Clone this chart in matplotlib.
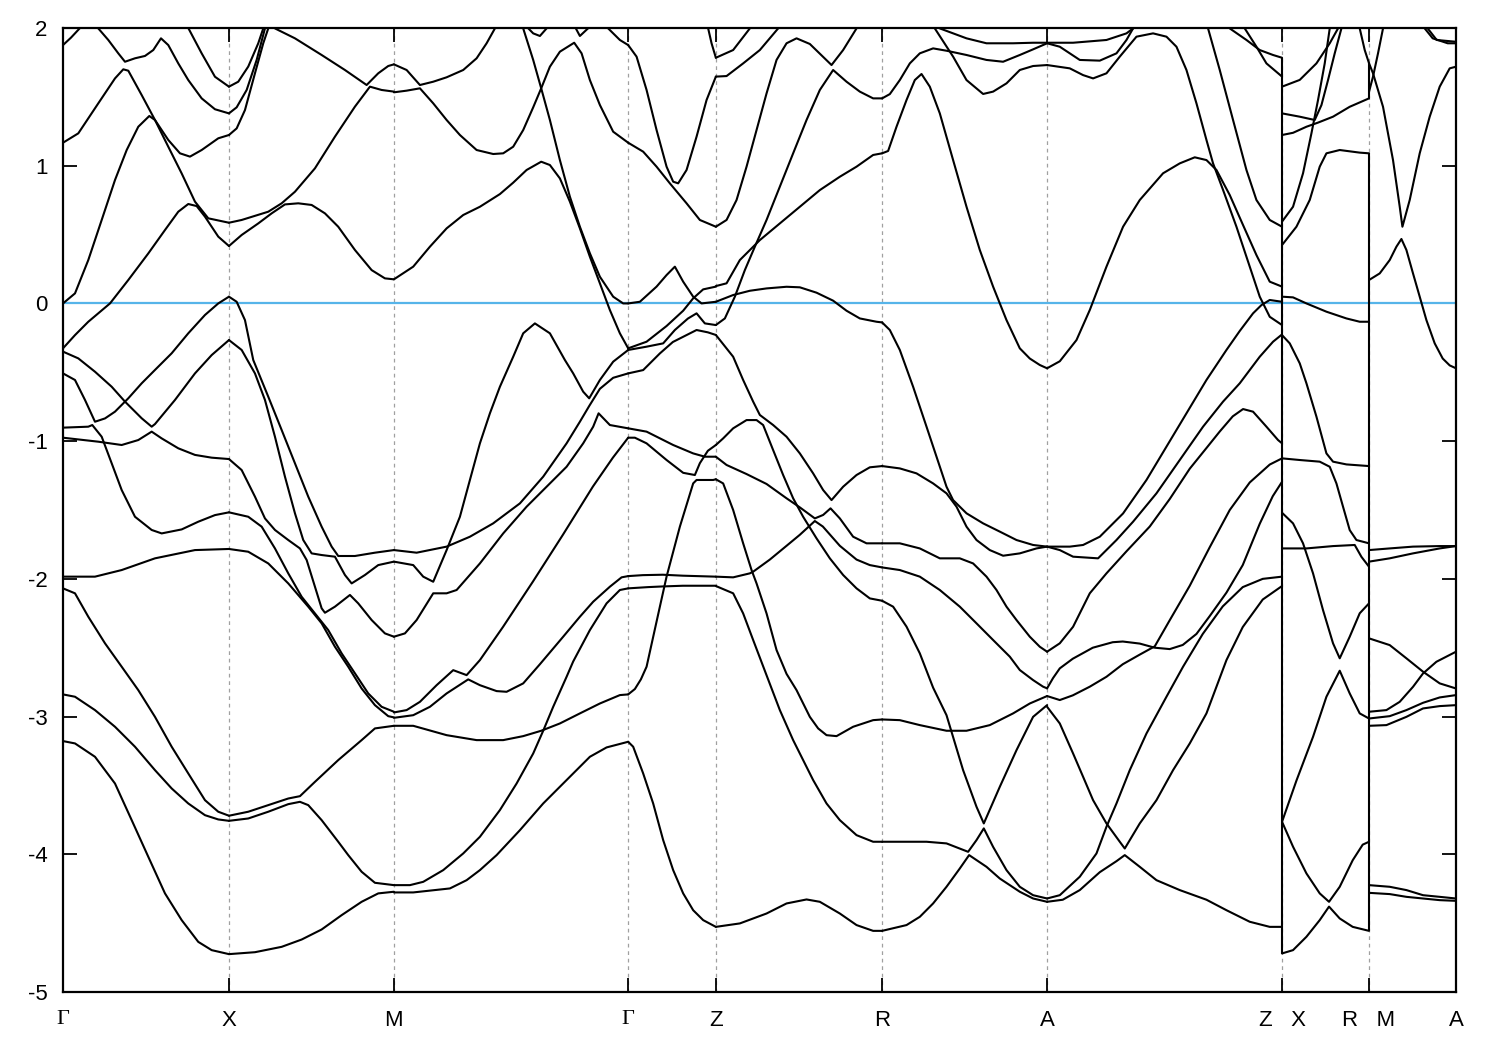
import matplotlib
matplotlib.use("Agg")
import matplotlib.pyplot as plt

# high symmetry points along the k-path
K_TICKS = [0.0, 1.66, 3.31, 5.653, 6.53, 8.193, 9.843, 12.193, 13.063, 13.933]
K_LABELS = ["Γ", "X", "M", "Γ", "Z", "R", "A", "Z   X", "R   M", "A"]
E_TICKS = [-5, -4, -3, -2, -1, 0, 1, 2]
K_ZX = 12.193
K_RM = 13.063
# energy ranges joined by a vertical step at the two path breaks
JUMP_SPANS = [
    (K_ZX, -4.725, 1.784),
    (K_RM, -4.556, 1.09),
    (K_RM, 1.489, 1.744),
]

# bands, one list of (k, E) per band, split by path segment
GAMMA_X = [
    [(0.0, 1.876), (0.08, 1.93), (0.17, 2.0), (0.19, 2.05)],
    [(0.33, 2.05), (0.353, 1.997), (0.453, 1.913), (0.553, 1.816), (0.62, 1.755), (0.72, 1.78), (0.82, 1.797),
     (0.903, 1.84), (0.98, 1.925), (1.053, 1.876), (1.153, 1.743), (1.253, 1.622), (1.387, 1.489), (1.52, 1.41),
     (1.66, 1.38)],
    [(1.23, 2.05), (1.253, 2.0), (1.387, 1.816), (1.52, 1.646), (1.66, 1.574)],
    [(0.0, 1.167), (0.153, 1.235), (0.353, 1.453), (0.52, 1.634), (0.603, 1.70), (0.653, 1.69), (0.787, 1.513),
     (0.92, 1.332), (1.053, 1.187), (1.17, 1.09), (1.27, 1.066), (1.387, 1.114), (1.553, 1.199), (1.66, 1.223)],
    [(0.0, 0.0), (0.12, 0.073), (0.253, 0.315), (0.387, 0.606), (0.52, 0.896), (0.637, 1.114), (0.753, 1.283),
     (0.863, 1.361), (0.92, 1.332), (1.053, 1.138), (1.187, 0.944), (1.32, 0.739), (1.453, 0.618), (1.66, 0.586)],
    [(0.0, -0.326), (0.12, -0.23), (0.253, -0.133), (0.47, 0.0), (0.653, 0.17), (0.853, 0.363), (1.02, 0.533),
     (1.153, 0.666), (1.253, 0.722), (1.337, 0.707), (1.42, 0.63), (1.553, 0.485), (1.66, 0.417)],
    [(0.0, -0.35), (0.153, -0.399), (0.32, -0.496), (0.487, -0.605), (0.62, -0.713), (0.787, -0.834),
     (0.887, -0.895), (0.92, -0.876), (1.12, -0.701), (1.32, -0.508), (1.487, -0.375), (1.66, -0.266)],
    [(0.0, -0.508), (0.12, -0.556), (0.22, -0.701), (0.32, -0.859), (0.42, -0.835), (0.52, -0.786),
     (0.653, -0.689), (0.787, -0.58), (0.92, -0.483), (1.087, -0.362), (1.253, -0.217), (1.42, -0.084),
     (1.553, 0.0), (1.66, 0.049)],
    [(0.0, -0.902), (0.253, -0.895), (0.293, -0.883), (0.387, -0.968), (0.487, -1.161), (0.587, -1.355),
     (0.72, -1.549), (0.887, -1.645), (0.987, -1.67), (1.187, -1.641), (1.353, -1.585), (1.52, -1.537),
     (1.66, -1.517)],
    [(0.0, -0.975), (0.353, -1.004), (0.587, -1.028), (0.753, -0.992), (0.887, -0.931), (0.987, -0.98),
     (1.153, -1.052), (1.32, -1.1), (1.487, -1.12), (1.66, -1.13)],
    [(0.0, -1.984), (0.32, -1.984), (0.587, -1.936), (0.92, -1.851), (1.32, -1.791), (1.66, -1.783)],
    [(0.0, -2.069), (0.12, -2.105), (0.253, -2.275), (0.42, -2.468), (0.587, -2.638), (0.753, -2.808),
     (0.92, -3.002), (1.087, -3.219), (1.253, -3.413), (1.42, -3.607), (1.553, -3.691), (1.66, -3.72)],
    [(0.0, -2.839), (0.12, -2.856), (0.32, -2.953), (0.52, -3.074), (0.72, -3.219), (0.92, -3.389),
     (1.087, -3.522), (1.253, -3.631), (1.42, -3.716), (1.553, -3.747), (1.66, -3.757)],
    [(0.0, -3.178), (0.12, -3.195), (0.32, -3.292), (0.52, -3.486), (0.687, -3.752), (0.853, -4.018),
     (1.02, -4.284), (1.187, -4.478), (1.353, -4.636), (1.487, -4.696), (1.66, -4.725)],
]

X_M = [
    [(1.66, 1.574), (1.753, 1.61), (1.853, 1.72), (1.953, 1.889), (2.003, 1.997), (2.02, 2.05)],
    [(1.66, 1.38), (1.737, 1.424), (1.837, 1.55), (1.937, 1.768), (2.02, 1.997), (2.04, 2.05)],
    [(1.66, 1.223), (1.737, 1.271), (1.82, 1.404), (1.92, 1.671), (2.003, 1.889), (2.053, 1.997), (2.07, 2.05)],
    [(2.1, 2.05), (2.12, 1.997), (2.32, 1.925), (2.587, 1.804), (2.82, 1.695), (3.037, 1.586), (3.153, 1.671),
     (3.253, 1.724), (3.31, 1.736)],
    [(1.66, 0.586), (1.787, 0.606), (2.053, 0.666), (2.187, 0.727), (2.32, 0.811), (2.52, 0.981), (2.72, 1.211),
     (2.92, 1.429), (3.07, 1.574), (3.187, 1.55), (3.31, 1.538)],
    [(1.66, 0.417), (1.787, 0.497), (1.953, 0.581), (2.087, 0.654), (2.22, 0.719), (2.353, 0.727), (2.487, 0.715),
     (2.62, 0.654), (2.753, 0.557), (2.92, 0.388), (3.087, 0.242), (3.22, 0.182), (3.31, 0.175)],
    [(1.66, 0.049), (1.737, 0.012), (1.82, -0.121), (1.903, -0.411), (2.053, -0.677), (2.187, -0.919),
     (2.32, -1.161), (2.453, -1.403), (2.587, -1.621), (2.687, -1.766), (2.753, -1.834), (2.92, -1.834),
     (3.12, -1.81), (3.31, -1.791)],
    [(1.66, -0.266), (1.787, -0.338), (1.92, -0.508), (2.02, -0.701), (2.12, -0.968), (2.22, -1.258),
     (2.32, -1.524), (2.403, -1.718), (2.487, -1.815), (2.587, -1.827), (2.72, -1.839), (2.82, -1.972),
     (2.887, -2.033), (3.02, -1.972), (3.153, -1.9), (3.31, -1.875)],
    [(1.66, -1.13), (1.787, -1.21), (1.92, -1.403), (2.02, -1.561), (2.12, -1.645), (2.253, -1.718),
     (2.37, -1.779), (2.437, -1.863), (2.52, -2.057), (2.587, -2.214), (2.62, -2.246), (2.72, -2.202),
     (2.87, -2.117), (2.953, -2.178), (3.087, -2.299), (3.22, -2.396), (3.31, -2.42)],
    [(1.66, -1.517), (1.853, -1.549), (1.987, -1.621), (2.12, -1.779), (2.253, -1.96), (2.387, -2.13),
     (2.52, -2.251), (2.653, -2.372), (2.787, -2.541), (2.92, -2.686), (3.053, -2.832), (3.187, -2.929),
     (3.31, -2.965)],
    [(1.66, -1.783), (1.853, -1.803), (2.053, -1.888), (2.253, -2.033), (2.453, -2.202), (2.587, -2.323),
     (2.72, -2.493), (2.853, -2.638), (2.987, -2.796), (3.12, -2.917), (3.253, -2.997), (3.31, -3.006)],
    [(1.66, -3.72), (1.853, -3.691), (2.053, -3.643), (2.253, -3.595), (2.37, -3.578), (2.52, -3.474),
     (2.753, -3.316), (2.987, -3.171), (3.12, -3.086), (3.31, -3.067)],
    [(1.66, -3.757), (1.853, -3.74), (2.053, -3.691), (2.253, -3.636), (2.37, -3.619), (2.453, -3.643),
     (2.587, -3.752), (2.753, -3.909), (2.853, -4.006), (2.987, -4.127), (3.12, -4.207), (3.31, -4.224)],
    [(1.66, -4.725), (1.92, -4.711), (2.187, -4.672), (2.387, -4.619), (2.587, -4.546), (2.787, -4.442),
     (2.987, -4.345), (3.153, -4.284), (3.31, -4.272)],
]

M_GAMMA = [
    [(3.31, 1.736), (3.437, 1.695), (3.57, 1.586), (3.703, 1.61), (3.837, 1.642), (4.003, 1.695), (4.137, 1.78),
     (4.237, 1.889), (4.32, 1.997), (4.34, 2.05)],
    [(3.31, 1.533), (3.437, 1.545), (3.57, 1.562), (3.703, 1.453), (3.837, 1.332), (3.97, 1.223), (4.137, 1.114),
     (4.303, 1.085), (4.403, 1.09), (4.503, 1.138), (4.603, 1.259), (4.703, 1.424), (4.783, 1.562), (4.87, 1.719),
     (4.97, 1.828), (5.113, 1.893), (5.187, 1.816), (5.27, 1.622), (5.37, 1.441), (5.503, 1.247), (5.653, 1.167)],
    [(4.62, 2.05), (4.637, 2.01), (4.703, 1.961), (4.77, 1.942), (4.837, 1.997), (4.85, 2.05)],
    [(5.1, 2.05), (5.12, 2.01), (5.17, 1.942), (5.27, 2.01), (5.29, 2.05)],
    [(4.58, 2.05), (4.603, 1.997), (4.703, 1.768), (4.783, 1.562), (4.87, 1.332), (4.97, 1.041), (5.07, 0.775),
     (5.17, 0.557), (5.27, 0.364), (5.37, 0.194), (5.503, 0.049), (5.603, 0.0), (5.653, 0.0)],
    [(3.31, 0.175), (3.503, 0.267), (3.67, 0.412), (3.837, 0.545), (4.003, 0.642), (4.17, 0.702), (4.37, 0.794),
     (4.503, 0.877), (4.637, 0.969), (4.783, 1.029), (4.87, 1.005), (4.97, 0.908), (5.07, 0.739), (5.17, 0.545),
     (5.27, 0.339), (5.37, 0.146), (5.47, -0.048), (5.57, -0.217), (5.653, -0.326)],
    [(5.43, 2.05), (5.453, 1.997), (5.57, 1.913), (5.653, 1.876)],
    [(3.31, -1.875), (3.503, -1.9), (3.603, -1.984), (3.703, -2.021), (3.837, -1.791), (3.97, -1.549),
     (4.07, -1.282), (4.17, -1.016), (4.27, -0.798), (4.37, -0.605), (4.503, -0.387), (4.603, -0.217),
     (4.72, -0.145), (4.87, -0.217), (5.02, -0.411), (5.103, -0.508), (5.203, -0.641), (5.263, -0.689),
     (5.37, -0.556), (5.503, -0.423), (5.653, -0.338)],
    [(3.31, -1.791), (3.537, -1.81), (3.837, -1.766), (4.07, -1.694), (4.303, -1.597), (4.57, -1.452),
     (4.803, -1.258), (5.037, -1.016), (5.17, -0.859), (5.263, -0.745), (5.37, -0.62), (5.503, -0.54),
     (5.653, -0.508)],
    [(3.31, -2.42), (3.42, -2.396), (3.537, -2.299), (3.703, -2.105), (3.837, -2.105), (3.937, -2.081),
     (4.17, -1.888), (4.403, -1.67), (4.637, -1.476), (4.837, -1.331), (5.037, -1.186), (5.203, -1.016),
     (5.303, -0.895), (5.357, -0.798), (5.47, -0.883), (5.653, -0.907)],
    [(3.31, -2.97), (3.437, -2.953), (3.57, -2.893), (3.737, -2.772), (3.903, -2.663), (4.037, -2.699),
     (4.17, -2.59), (4.4, -2.35), (4.7, -2.02), (5.0, -1.68), (5.3, -1.33), (5.5, -1.12), (5.653, -0.975)],
    [(3.31, -3.009), (3.503, -2.99), (3.67, -2.929), (3.837, -2.832), (4.053, -2.73), (4.17, -2.772),
     (4.337, -2.815), (4.437, -2.82), (4.603, -2.759), (4.77, -2.62), (5.003, -2.42), (5.17, -2.275),
     (5.303, -2.166), (5.47, -2.057), (5.587, -1.989), (5.653, -1.98)],
    [(3.31, -3.067), (3.503, -3.067), (3.837, -3.135), (4.137, -3.171), (4.403, -3.171), (4.603, -3.142),
     (4.783, -3.103), (4.97, -3.05), (5.17, -2.977), (5.37, -2.905), (5.57, -2.844), (5.653, -2.839)],
    [(3.31, -4.224), (3.47, -4.224), (3.603, -4.2), (3.803, -4.115), (4.003, -3.994), (4.17, -3.873),
     (4.37, -3.679), (4.537, -3.486), (4.703, -3.268), (4.803, -3.103), (4.903, -2.929), (5.037, -2.711),
     (5.103, -2.6), (5.27, -2.372), (5.437, -2.178), (5.57, -2.081), (5.653, -2.069)],
    [(3.31, -4.277), (3.503, -4.277), (3.87, -4.248), (4.037, -4.188), (4.17, -4.115), (4.337, -4.006),
     (4.57, -3.825), (4.803, -3.631), (5.037, -3.461), (5.27, -3.292), (5.437, -3.224), (5.653, -3.183)],
]

GAMMA_Z = [
    [(5.653, 1.876), (5.737, 1.792), (5.837, 1.55), (5.937, 1.259), (6.037, 0.993), (6.103, 0.884), (6.153, 0.872),
     (6.237, 0.969), (6.337, 1.211), (6.437, 1.477), (6.53, 1.647)],
    [(5.653, 1.167), (5.803, 1.102), (5.937, 0.993), (6.07, 0.872), (6.237, 0.727), (6.37, 0.606), (6.53, 0.557)],
    [(6.44, 2.05), (6.453, 1.997), (6.487, 1.889), (6.53, 1.784)],
    [(5.653, 0.0), (5.77, 0.012), (5.937, 0.122), (6.037, 0.206), (6.12, 0.267), (6.203, 0.158), (6.303, 0.049),
     (6.387, 0.0), (6.53, 0.012)],
    [(5.653, -0.326), (5.837, -0.278), (6.037, -0.164), (6.203, -0.053), (6.303, 0.037), (6.403, 0.102),
     (6.53, 0.122)],
    [(5.653, -0.338), (5.837, -0.314), (6.003, -0.29), (6.12, -0.193), (6.25, -0.11), (6.337, -0.072),
     (6.42, -0.145), (6.53, -0.157)],
    [(5.653, -0.508), (5.803, -0.484), (5.97, -0.363), (6.1, -0.28), (6.337, -0.193), (6.45, -0.21), (6.53, -0.229)],
    [(5.653, -0.907), (5.837, -0.931), (6.103, -1.028), (6.303, -1.089), (6.42, -1.113), (6.53, -1.113)],
    [(5.653, -0.975), (5.72, -0.975), (5.837, -1.016), (6.037, -1.137), (6.203, -1.23), (6.32, -1.246),
     (6.37, -1.16), (6.45, -1.07), (6.53, -1.028)],
    [(5.653, -1.98), (5.8, -1.973), (6.0, -1.97), (6.2, -1.977), (6.53, -1.984)],
    [(5.653, -2.069), (5.85, -2.06), (6.0, -2.055), (6.2, -2.05), (6.53, -2.05)],
    [(5.653, -2.839), (5.72, -2.8), (5.78, -2.73), (5.837, -2.638), (5.97, -2.202), (6.037, -1.984), (6.17, -1.621),
     (6.303, -1.307), (6.337, -1.282), (6.503, -1.282), (6.53, -1.277)],
    [(5.653, -3.183), (5.703, -3.219), (5.803, -3.413), (5.903, -3.631), (6.003, -3.897), (6.103, -4.115),
     (6.203, -4.284), (6.303, -4.406), (6.403, -4.478), (6.53, -4.527)],
]

Z_R = [
    [(6.53, 1.647), (6.637, 1.651), (6.803, 1.743), (6.97, 1.84), (7.153, 1.997), (7.18, 2.05)],
    [(6.53, 1.784), (6.703, 1.84), (6.87, 1.997), (6.89, 2.05)],
    [(6.53, 0.557), (6.637, 0.606), (6.737, 0.751), (6.837, 0.993), (6.937, 1.259), (7.037, 1.525), (7.137, 1.768),
     (7.237, 1.889), (7.337, 1.925), (7.47, 1.884), (7.687, 1.731), (7.803, 1.84), (7.937, 1.997), (7.96, 2.05)],
    [(6.53, -0.157), (6.62, -0.109), (6.72, 0.049), (6.82, 0.242), (6.92, 0.412), (7.037, 0.606), (7.17, 0.848),
     (7.303, 1.09), (7.437, 1.332), (7.57, 1.55), (7.703, 1.695), (7.837, 1.61), (7.97, 1.538), (8.103, 1.489),
     (8.193, 1.489)],
    [(6.53, 0.126), (6.637, 0.146), (6.77, 0.315), (6.97, 0.46), (7.17, 0.581), (7.37, 0.702), (7.57, 0.823),
     (7.77, 0.92), (7.937, 0.993), (8.103, 1.078), (8.193, 1.09)],
    [(6.53, 0.012), (6.703, 0.061), (6.87, 0.092), (7.037, 0.109), (7.237, 0.121), (7.37, 0.117), (7.537, 0.078),
     (7.703, 0.02), (7.837, -0.053), (7.97, -0.109), (8.137, -0.133), (8.193, -0.138)],
    [(6.53, -0.229), (6.703, -0.387), (6.803, -0.556), (6.903, -0.713), (6.97, -0.81), (7.103, -0.883),
     (7.237, -0.968), (7.37, -1.089), (7.503, -1.234), (7.603, -1.355), (7.687, -1.428), (7.803, -1.331),
     (7.937, -1.246), (8.07, -1.19), (8.193, -1.181)],
    [(6.53, -1.028), (6.603, -0.98), (6.703, -0.907), (6.837, -0.847), (6.937, -0.847), (7.003, -0.883),
     (7.103, -1.065), (7.203, -1.246), (7.303, -1.415), (7.403, -1.549), (7.537, -1.706), (7.67, -1.851),
     (7.803, -1.972), (7.937, -2.069), (8.07, -2.142), (8.193, -2.159)],
    [(6.53, -1.113), (6.637, -1.173), (6.837, -1.239), (7.037, -1.311), (7.237, -1.415), (7.37, -1.481),
     (7.52, -1.561), (7.603, -1.536), (7.677, -1.488), (7.77, -1.561), (7.903, -1.694), (8.037, -1.742),
     (8.193, -1.742)],
    [(6.53, -1.984), (6.703, -1.989), (6.87, -1.96), (6.903, -1.948), (7.07, -1.86), (7.237, -1.76),
     (7.37, -1.68), (7.52, -1.58), (7.6, -1.62), (7.77, -1.76), (7.937, -1.86), (8.07, -1.9), (8.193, -1.917)],
    [(6.53, -1.277), (6.603, -1.307), (6.703, -1.5), (6.803, -1.742), (6.887, -1.936), (6.937, -2.033),
     (7.037, -2.251), (7.137, -2.517), (7.237, -2.69), (7.337, -2.808), (7.47, -3.002), (7.553, -3.086),
     (7.637, -3.135), (7.737, -3.142), (7.903, -3.074), (8.103, -3.026), (8.193, -3.021)],
    [(6.53, -2.052), (6.703, -2.105), (6.803, -2.251), (6.903, -2.444), (7.037, -2.7), (7.17, -2.953),
     (7.303, -3.171), (7.503, -3.461), (7.637, -3.631), (7.77, -3.752), (7.937, -3.861), (8.103, -3.909),
     (8.193, -3.909)],
    [(6.53, -4.527), (6.77, -4.502), (7.037, -4.43), (7.237, -4.357), (7.437, -4.328), (7.57, -4.345),
     (7.77, -4.43), (7.937, -4.514), (8.103, -4.556), (8.193, -4.556)],
]

R_A = [
    [(8.193, 1.489), (8.27, 1.52), (8.37, 1.622), (8.47, 1.743), (8.57, 1.816), (8.703, 1.852), (8.837, 1.835),
     (9.037, 1.804), (9.237, 1.768), (9.403, 1.755), (9.57, 1.804), (9.703, 1.845), (9.843, 1.889)],
    [(8.70, 2.05), (8.72, 1.997), (8.903, 1.792), (9.037, 1.622), (9.203, 1.521), (9.303, 1.538), (9.437, 1.598),
     (9.57, 1.695), (9.703, 1.724), (9.843, 1.731)],
    [(8.74, 2.05), (8.77, 1.997), (9.037, 1.925), (9.237, 1.889), (9.503, 1.889), (9.703, 1.893), (9.843, 1.893)],
    [(8.193, 1.09), (8.253, 1.107), (8.337, 1.283), (8.437, 1.477), (8.52, 1.622), (8.587, 1.666), (8.67, 1.574),
     (8.77, 1.38), (8.903, 1.041), (9.037, 0.702), (9.17, 0.388), (9.303, 0.122), (9.437, -0.121), (9.57, -0.326),
     (9.67, -0.40), (9.77, -0.447), (9.843, -0.471)],
    [(8.193, -0.138), (8.27, -0.193), (8.37, -0.338), (8.503, -0.605), (8.637, -0.895), (8.737, -1.113),
     (8.837, -1.331), (8.903, -1.428), (9.037, -1.524), (9.203, -1.597), (9.37, -1.657), (9.537, -1.718),
     (9.703, -1.754), (9.843, -1.766)],
    [(8.193, -1.181), (8.37, -1.198), (8.537, -1.234), (8.703, -1.307), (8.837, -1.379), (8.937, -1.476),
     (9.037, -1.621), (9.137, -1.718), (9.27, -1.791), (9.403, -1.832), (9.57, -1.815), (9.737, -1.779),
     (9.843, -1.766)],
    [(8.193, -1.742), (8.37, -1.742), (8.57, -1.779), (8.77, -1.851), (8.97, -1.851), (9.103, -1.888),
     (9.237, -1.984), (9.337, -2.081), (9.437, -2.202), (9.537, -2.299), (9.67, -2.42), (9.77, -2.493),
     (9.843, -2.529)],
    [(8.193, -1.917), (8.37, -1.936), (8.57, -1.984), (8.77, -2.081), (8.97, -2.202), (9.137, -2.323),
     (9.303, -2.444), (9.47, -2.565), (9.57, -2.662), (9.703, -2.735), (9.803, -2.783), (9.843, -2.795)],
    [(8.193, -2.159), (8.303, -2.202), (8.437, -2.347), (8.57, -2.541), (8.703, -2.79), (8.837, -2.99),
     (9.003, -3.389), (9.137, -3.655), (9.21, -3.776), (9.37, -3.51), (9.537, -3.244), (9.703, -3.002),
     (9.843, -2.917)],
    [(8.193, -3.021), (8.37, -3.026), (8.57, -3.062), (8.837, -3.103), (9.037, -3.103), (9.27, -3.062),
     (9.503, -2.977), (9.67, -2.905), (9.843, -2.851)],
    [(8.193, -3.909), (8.637, -3.909), (8.837, -3.921), (9.053, -3.982), (9.137, -3.897), (9.21, -3.812),
     (9.303, -3.946), (9.437, -4.115), (9.57, -4.236), (9.703, -4.297), (9.843, -4.321)],
    [(8.193, -4.556), (8.437, -4.514), (8.57, -4.454), (8.703, -4.357), (8.837, -4.236), (8.97, -4.103),
     (9.063, -4.006), (9.237, -4.091), (9.37, -4.176), (9.57, -4.272), (9.703, -4.321), (9.843, -4.345)],
]

A_Z = [
    [(9.843, 1.893), (10.103, 1.893), (10.437, 1.913), (10.637, 1.961), (10.703, 1.997), (10.72, 2.05)],
    [(9.843, 1.889), (9.97, 1.864), (10.17, 1.768), (10.37, 1.763), (10.537, 1.816), (10.637, 1.913),
     (10.703, 1.997), (10.72, 2.05)],
    [(9.843, 1.731), (10.07, 1.707), (10.203, 1.658), (10.303, 1.634), (10.437, 1.671), (10.57, 1.792),
     (10.737, 1.937), (10.903, 1.961), (11.037, 1.937), (11.137, 1.864), (11.237, 1.695), (11.337, 1.453),
     (11.437, 1.187), (11.503, 1.017), (11.603, 0.824), (11.737, 0.557), (11.87, 0.267), (11.97, 0.049),
     (12.07, -0.097), (12.193, -0.157)],
    [(9.843, -0.471), (9.97, -0.42), (10.137, -0.266), (10.27, -0.048), (10.437, 0.267), (10.603, 0.557),
     (10.77, 0.751), (11.003, 0.945), (11.17, 1.017), (11.32, 1.061), (11.437, 1.041), (11.537, 0.969),
     (11.67, 0.787), (11.803, 0.569), (11.937, 0.351), (12.07, 0.158), (12.193, 0.122)],
    [(11.44, 2.05), (11.453, 1.997), (11.57, 1.695), (11.703, 1.332), (11.837, 0.969), (11.937, 0.751),
     (12.07, 0.606), (12.193, 0.557)],
    [(11.65, 2.05), (11.67, 1.997), (11.837, 1.913), (11.97, 1.84), (12.103, 1.804), (12.193, 1.784)],
    [(11.80, 2.05), (11.82, 1.997), (11.937, 1.864), (12.037, 1.743), (12.193, 1.647)],
    [(9.843, -1.766), (10.07, -1.766), (10.203, -1.754), (10.37, -1.694), (10.603, -1.525), (10.837, -1.282),
     (11.037, -1.04), (11.237, -0.798), (11.437, -0.556), (11.637, -0.338), (11.77, -0.2), (11.903, -0.072),
     (11.987, -0.012), (12.07, 0.025), (12.193, 0.012)],
    [(9.843, -1.766), (9.97, -1.791), (10.103, -1.839), (10.353, -1.851), (10.537, -1.718), (10.703, -1.585),
     (10.937, -1.379), (11.17, -1.137), (11.403, -0.895), (11.603, -0.713), (11.77, -0.58), (11.97, -0.387),
     (12.103, -0.278), (12.193, -0.225)],
    [(9.843, -2.529), (9.97, -2.468), (10.103, -2.348), (10.27, -2.105), (10.437, -1.96), (10.637, -1.8),
     (10.87, -1.62), (11.07, -1.42), (11.27, -1.2), (11.437, -1.05), (11.57, -0.93), (11.7, -0.82),
     (11.803, -0.767), (11.903, -0.786), (12.037, -0.895), (12.153, -0.992), (12.193, -1.016)],
    [(9.843, -2.851), (9.97, -2.88), (10.1, -2.846), (10.27, -2.783), (10.437, -2.711), (10.6, -2.62),
     (10.77, -2.55), (10.92, -2.49), (11.07, -2.3), (11.27, -2.05), (11.47, -1.77), (11.67, -1.5),
     (11.87, -1.3), (12.07, -1.17), (12.193, -1.125)],
    [(9.843, -2.795), (9.903, -2.72), (9.97, -2.65), (10.1, -2.58), (10.3, -2.5), (10.5, -2.46), (10.6, -2.455),
     (10.77, -2.47), (10.92, -2.50), (11.07, -2.51), (11.2, -2.48), (11.337, -2.4), (11.47, -2.27),
     (11.637, -2.1), (11.8, -1.9), (11.97, -1.6), (12.1, -1.4), (12.193, -1.295)],
    [(9.843, -4.321), (9.97, -4.297), (10.17, -4.163), (10.337, -3.994), (10.437, -3.8), (10.537, -3.631),
     (10.67, -3.389), (10.837, -3.123), (11.037, -2.856), (11.203, -2.638), (11.4, -2.4), (11.6, -2.2),
     (11.8, -2.06), (12.0, -2.0), (12.193, -1.984)],
    [(9.843, -2.929), (9.97, -3.05), (10.103, -3.268), (10.203, -3.437), (10.303, -3.607), (10.437, -3.776),
     (10.57, -3.909), (10.62, -3.958), (10.77, -3.776), (10.937, -3.607), (11.103, -3.389), (11.27, -3.195),
     (11.437, -2.977), (11.637, -2.59), (11.8, -2.35), (12.0, -2.15), (12.193, -2.052)],
    [(9.843, -4.345), (10.0, -4.33), (10.17, -4.26), (10.37, -4.13), (10.537, -4.05), (10.62, -4.006),
     (10.77, -4.091), (10.937, -4.188), (11.17, -4.26), (11.437, -4.33), (11.637, -4.406), (11.87, -4.49),
     (12.07, -4.527), (12.193, -4.527)],
]

X_R = [
    [(12.193, 1.574), (12.37, 1.623), (12.537, 1.743), (12.67, 1.889), (12.753, 1.997), (12.77, 2.05)],
    [(12.193, 1.38), (12.37, 1.356), (12.52, 1.332), (12.587, 1.44), (12.653, 1.622), (12.72, 1.816),
     (12.787, 1.997), (12.8, 2.05)],
    [(12.193, 1.223), (12.303, 1.239), (12.437, 1.283), (12.553, 1.313), (12.703, 1.356), (12.87, 1.428),
     (13.063, 1.489)],
    [(12.193, 0.594), (12.303, 0.702), (12.403, 0.945), (12.487, 1.235), (12.553, 1.477), (12.62, 1.743),
     (12.67, 1.997), (12.68, 2.05)],
    [(12.193, 0.424), (12.337, 0.557), (12.47, 0.751), (12.57, 0.993), (12.637, 1.09), (12.77, 1.114),
     (12.97, 1.095), (13.063, 1.09)],
    [(12.193, 0.049), (12.303, 0.044), (12.437, 0.0), (12.637, -0.06), (12.837, -0.109), (12.97, -0.133),
     (13.063, -0.133)],
    [(12.193, -0.23), (12.27, -0.29), (12.37, -0.435), (12.437, -0.58), (12.537, -0.822), (12.637, -1.089),
     (12.703, -1.149), (12.837, -1.169), (13.063, -1.181)],
    [(12.193, -1.125), (12.37, -1.137), (12.57, -1.149), (12.67, -1.186), (12.737, -1.307), (12.803, -1.476),
     (12.87, -1.646), (12.937, -1.718), (13.063, -1.742)],
    [(12.193, -1.52), (12.303, -1.597), (12.403, -1.742), (12.503, -1.96), (12.603, -2.227), (12.703, -2.468),
     (12.77, -2.577), (12.87, -2.42), (12.97, -2.25), (13.063, -2.178)],
    [(12.193, -1.779), (12.437, -1.779), (12.703, -1.762), (12.92, -1.754), (12.987, -1.84), (13.063, -1.912)],
    [(12.193, -3.764), (12.337, -3.465), (12.503, -3.147), (12.637, -2.856), (12.77, -2.667), (12.87, -2.832),
     (12.97, -2.977), (13.063, -3.014)],
    [(12.193, -3.764), (12.303, -3.945), (12.437, -4.139), (12.57, -4.284), (12.663, -4.345), (12.77, -4.236),
     (12.9, -4.043), (13.0, -3.93), (13.063, -3.909)],
    [(12.193, -4.72), (12.303, -4.696), (12.437, -4.599), (12.57, -4.478), (12.663, -4.38), (12.77, -4.466),
     (12.9, -4.527), (13.063, -4.556)],
    [(12.95, 2.05), (12.97, 1.997), (13.02, 1.84), (13.063, 1.744)],
]

M_A = [
    [(13.063, 1.744), (13.103, 1.671), (13.203, 1.428), (13.303, 1.041), (13.37, 0.703), (13.397, 0.557),
     (13.47, 0.751), (13.57, 1.09), (13.67, 1.356), (13.77, 1.574), (13.87, 1.707), (13.933, 1.719)],
    [(13.063, 1.537), (13.103, 1.647), (13.153, 1.816), (13.203, 1.997), (13.21, 2.05)],
    [(13.063, 0.17), (13.17, 0.218), (13.27, 0.315), (13.337, 0.412), (13.387, 0.468), (13.437, 0.388),
     (13.503, 0.218), (13.57, 0.049), (13.637, -0.121), (13.72, -0.29), (13.8, -0.4), (13.87, -0.45),
     (13.933, -0.471)],
    [(13.60, 2.05), (13.62, 1.997), (13.7, 1.925), (13.85, 1.889), (13.933, 1.889)],
    [(13.63, 2.05), (13.65, 1.997), (13.74, 1.913), (13.933, 1.9)],
    [(13.063, -1.791), (13.27, -1.779), (13.503, -1.766), (13.77, -1.762), (13.933, -1.762)],
    [(13.063, -1.875), (13.27, -1.851), (13.503, -1.815), (13.77, -1.779), (13.933, -1.762)],
    [(13.063, -2.432), (13.27, -2.481), (13.437, -2.577), (13.603, -2.674), (13.77, -2.759), (13.933, -2.796)],
    [(13.063, -2.965), (13.237, -2.953), (13.37, -2.893), (13.503, -2.784), (13.603, -2.687), (13.737, -2.602),
     (13.933, -2.529)],
    [(13.063, -3.014), (13.27, -2.997), (13.437, -2.953), (13.603, -2.9), (13.77, -2.861), (13.933, -2.844)],
    [(13.063, -3.067), (13.237, -3.062), (13.437, -3.002), (13.603, -2.941), (13.77, -2.924), (13.933, -2.917)],
    [(13.063, -4.224), (13.27, -4.236), (13.437, -4.26), (13.603, -4.297), (13.77, -4.309), (13.933, -4.321)],
    [(13.063, -4.28), (13.27, -4.289), (13.437, -4.309), (13.603, -4.321), (13.77, -4.333), (13.933, -4.338)],
]

SEGMENTS = [GAMMA_X, X_M, M_GAMMA, GAMMA_Z, Z_R, R_A, A_Z, X_R, M_A]


def draw_band(ax, pts):
    k = [p[0] for p in pts]
    e = [p[1] for p in pts]
    ax.plot(k, e, color="black", lw=1.5, solid_joinstyle="round", solid_capstyle="round", zorder=3)


def main():
    plt.rcParams["font.family"] = ["Liberation Sans", "DejaVu Sans"]
    plt.rcParams["axes.unicode_minus"] = False

    fig = plt.figure(figsize=(15, 10.5), dpi=100)
    ax = fig.add_axes([63 / 1500, 1 - 992 / 1050, (1456 - 63) / 1500, (992 - 28) / 1050])

    for k in K_TICKS[1:-1]:
        ax.axvline(k, color="#a0a0a0", lw=0.9, ls=(0, (3, 3)), zorder=1)
    ax.axhline(0, color="#56b4e9", lw=1.6, zorder=2)

    for seg in SEGMENTS:
        for band in seg:
            draw_band(ax, band)
    # steps where the path jumps between non-adjacent points
    for kj, lo, hi in JUMP_SPANS:
        ax.vlines(kj, lo, hi, color="black", lw=1.5, zorder=3)

    ax.set_xlim(K_TICKS[0], K_TICKS[-1])
    ax.set_ylim(-5, 2)
    ax.set_xticks(K_TICKS)
    ax.set_xticklabels(K_LABELS)
    ax.set_yticks(E_TICKS)
    ax.set_yticklabels([str(v) for v in E_TICKS])
    for lab in ax.get_xticklabels():
        if lab.get_text() == "Γ":
            lab.set_family("Liberation Serif")
            lab.set_fontsize(17)
    ax.tick_params(direction="in", length=10, width=1.3, top=True, right=True, labelsize=16)
    ax.tick_params(axis="x", pad=13)
    ax.tick_params(axis="y", pad=11)
    for s in ax.spines.values():
        s.set_linewidth(1.6)

    fig.savefig("out.png", dpi=100)


if __name__ == "__main__":
    main()
